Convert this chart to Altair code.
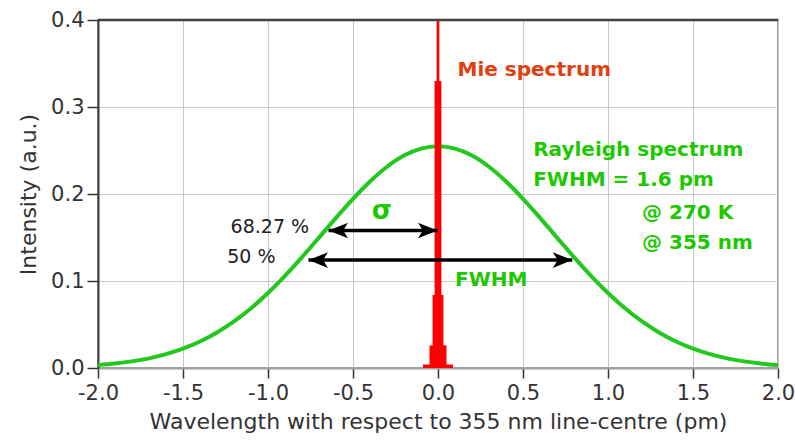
import altair as alt
import pandas as pd

# Rayleigh spectrum (green)
ray_x = [-2.0, -1.9, -1.8, -1.7, -1.6, -1.5, -1.4, -1.3, -1.2, -1.1, -1.0, -0.9, -0.8, -0.7,
         -0.6, -0.5, -0.4, -0.3, -0.2, -0.1, 0.0, 0.1, 0.2, 0.3, 0.4, 0.5, 0.6, 0.7, 0.8,
         0.9, 1.0, 1.1, 1.2, 1.3, 1.4, 1.5, 1.6, 1.7, 1.8, 1.9, 2.0]
ray_y = [0.0033, 0.0051, 0.0076, 0.0111, 0.0159, 0.0222, 0.0304, 0.0408, 0.0535, 0.0686,
         0.0862, 0.1059, 0.1274, 0.1499, 0.1726, 0.1945, 0.2144, 0.2313, 0.2442, 0.2522,
         0.2550, 0.2522, 0.2442, 0.2313, 0.2144, 0.1945, 0.1726, 0.1499, 0.1274, 0.1059,
         0.0862, 0.0686, 0.0535, 0.0408, 0.0304, 0.0222, 0.0159, 0.0111, 0.0076, 0.0051, 0.0033]

# Mie spectrum (red), stepped bins: left edge, right edge, height
mie_lo = [-0.088, -0.050, -0.032, -0.020, -0.008]
mie_hi = [0.088, 0.050, 0.032, 0.020, 0.008]
mie_h = [0.004, 0.026, 0.084, 0.330, 0.400]

# Arrows: start, end, level
arr_x1 = [-0.644, -0.762]
arr_x2 = [-0.003, 0.790]
arr_y = [0.158, 0.124]

# Ticks
x_ticks = [-2.0, -1.5, -1.0, -0.5, 0.0, 0.5, 1.0, 1.5, 2.0]
y_ticks = [0.0, 0.1, 0.2, 0.3, 0.4]

# Annotations
green_txt = ["Rayleigh spectrum", "FWHM = 1.6 pm", "@ 270 K", "@ 355 nm", "FWHM"]
green_tx = [0.56, 0.56, 1.20, 1.20, 0.10]
green_ty = [0.251, 0.216, 0.178, 0.144, 0.101]
black_txt = ["68.27 %", "50 %"]
black_tx = [-1.22, -1.24]
black_ty = [0.162, 0.128]
sigma_txt = ["σ"]
sigma_tx = [-0.33]
sigma_ty = [0.180]
mie_txt = ["Mie spectrum"]
mie_tx = [0.115]
mie_ty = [0.343]

FONT = "DejaVu Sans"
GREEN_LINE = "#22c81e"
GREEN_TXT = "#1ec800"

xs = alt.Scale(domain=[-2, 2], nice=False, zero=False)
ys = alt.Scale(domain=[0, 0.4], nice=False, zero=False)

lab_expr = "(datum.value < 0 ? '-' : '') + format(abs(datum.value), '.1f')"

x_axis = alt.Axis(values=x_ticks, labelExpr=lab_expr, title="Wavelength with respect to 355 nm line-centre (pm)",
                  labelFont=FONT, labelFontSize=21, labelColor="#333333", tickSize=10, tickColor="#333333",
                  tickWidth=1.5, labelPadding=4, domainColor="#a0a0a0", domainWidth=2, gridColor="#c8c8c8",
                  titleFont=FONT, titleFontSize=22, titleFontWeight="normal", titleColor="#333333",
                  titlePadding=8, labelFlush=False)
y_axis = alt.Axis(values=y_ticks, format=".1f", title="Intensity (a.u.)",
                  labelFont=FONT, labelFontSize=21, labelColor="#333333", tickSize=11, tickColor="#333333",
                  tickWidth=1.5, labelPadding=3, domainColor="#404040", domainWidth=2, gridColor="#c8c8c8",
                  titleFont=FONT, titleFontSize=22, titleFontWeight="normal", titleColor="#333333",
                  titlePadding=10, labelFlush=False)

ray_df = pd.DataFrame({"x": ray_x, "y": ray_y})
green = alt.Chart(ray_df).mark_line(color=GREEN_LINE, strokeWidth=4, interpolate="monotone").encode(
    x=alt.X("x:Q", scale=xs, axis=x_axis),
    y=alt.Y("y:Q", scale=ys, axis=y_axis),
)

mie_df = pd.DataFrame({"lo": mie_lo, "hi": mie_hi, "h": mie_h})
mie = alt.Chart(mie_df).mark_rect(color="#ff0000").encode(
    x=alt.X("lo:Q", scale=xs), x2="hi:Q",
    y=alt.Y("h:Q", scale=ys), y2=alt.datum(0),
)

arr_df = pd.DataFrame({"x1": arr_x1, "x2": arr_x2, "y": arr_y})
rules = alt.Chart(arr_df).mark_rule(color="black", strokeWidth=3.5).encode(
    x=alt.X("x1:Q", scale=xs), x2="x2:Q", y=alt.Y("y:Q", scale=ys)
)
left_head = alt.Chart(arr_df).mark_point(
    shape="M0,0L2,-0.8L1.5,0L2,0.8Z", filled=True, color="black", size=380, opacity=1
).encode(x=alt.X("x1:Q", scale=xs), y=alt.Y("y:Q", scale=ys))
right_head = alt.Chart(arr_df).mark_point(
    shape="M0,0L-2,-0.8L-1.5,0L-2,0.8Z", filled=True, color="black", size=380, opacity=1
).encode(x=alt.X("x2:Q", scale=xs), y=alt.Y("y:Q", scale=ys))

def text_layer(txt, tx, ty, color, size, weight, align="left"):
    df = pd.DataFrame({"t": txt, "x": tx, "y": ty})
    return alt.Chart(df).mark_text(font=FONT, fontSize=size, fontWeight=weight, color=color,
                                   align=align, baseline="middle").encode(
        x=alt.X("x:Q", scale=xs), y=alt.Y("y:Q", scale=ys), text="t:N")

green_t = text_layer(green_txt, green_tx, green_ty, GREEN_TXT, 20, "bold")
black_t = text_layer(black_txt, black_tx, black_ty, "#222222", 19, "normal")
sigma_t = text_layer(sigma_txt, sigma_tx, sigma_ty, GREEN_TXT, 26, "bold", align="center")
mie_t = text_layer(mie_txt, mie_tx, mie_ty, "#e04010", 20, "bold")

top = alt.Chart(pd.DataFrame({"v": [y_ticks[-1]]})).mark_rule(color="#404040", strokeWidth=2.5).encode(
    y=alt.Y("v:Q", scale=ys)
)

chart = alt.layer(green, mie, rules, left_head, right_head, green_t, black_t, sigma_t, mie_t, top).properties(
    width=680, height=348,
    autosize=alt.AutoSizeParams(type="none"),
    padding={"left": 98, "top": 20, "right": 17, "bottom": 78},
    background="white",
).configure_view(stroke="#a0a0a0", strokeWidth=2)

chart.save("out.html", embed_options={"renderer": "svg", "actions": False})
